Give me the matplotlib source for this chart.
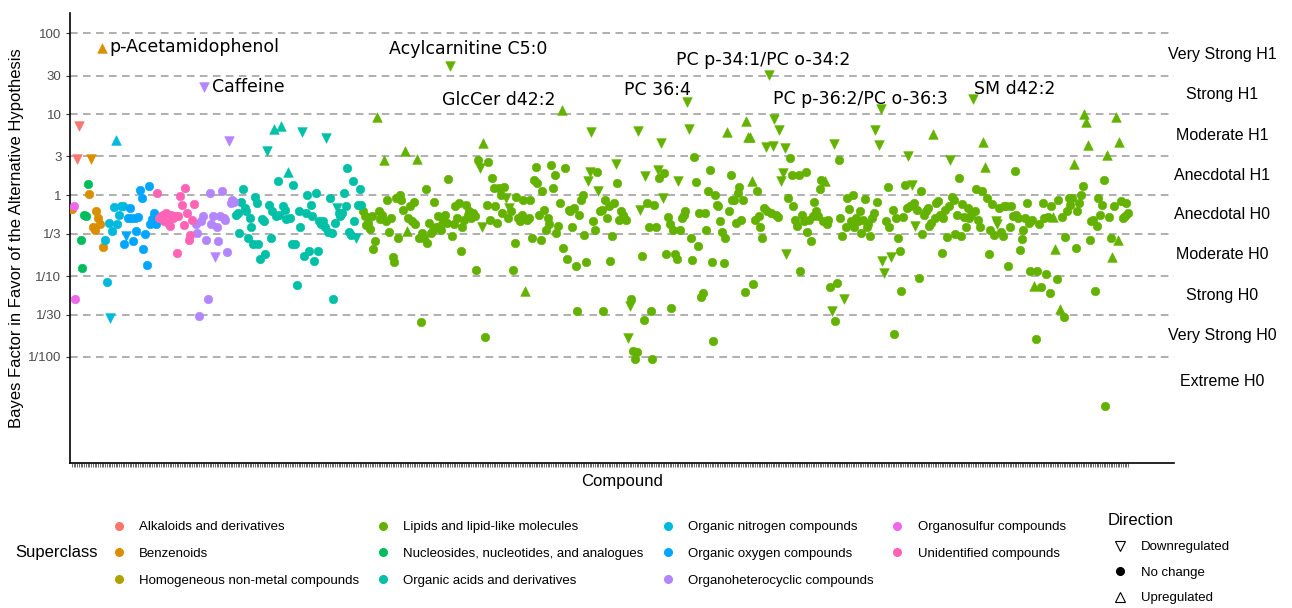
import matplotlib.pyplot as plt
import matplotlib.transforms as mtransforms
from matplotlib.lines import Line2D

# log10 Bayes factors, left to right, one run per superclass block
# direction codes: o = no change, v = downregulated, ^ = upregulated
benz_first = [-0.17]
benz_first_dir = "o"
sulfur_bf = [-0.13, -1.28]
sulfur_dir = "oo"
alkaloid_bf = [0.44, 0.85]
alkaloid_dir = "vv"
nucleo_bf = [-0.55, -0.90, -0.24, -0.26, 0.14]
nucleo_dir = "ooooo"
benz_bf = [0.01, 0.45, -0.40, -0.43, -0.20, -0.28, -0.36, 1.82, -0.64]
benz_dir = "ovooooo^o"
nitrogen_bf = [-0.55, -1.07, -0.34, -1.52, -0.44, -0.15, 0.68, -0.36, -0.25, -0.14, -0.13]
nitrogen_dir = "ooovoo^oooo"
oxygen_bf = [-0.61, -0.50, -0.28, -0.16, -0.28, -0.57, -0.28, -0.44, -0.27, 0.06,
             -0.04, -0.67, -0.48, -0.86, 0.11, -0.36, -0.30, -0.22, -0.36]
oxygen_dir = "ovoooooooo" "ooooooooo"
unident_bf = [0.02, -0.28, -0.26, -0.25, -0.32, -0.22, -0.34, -0.38, -0.25, -0.28,
              -0.26, -0.71, -0.26, -0.01, -0.12, -0.37, 0.09, -0.22, -0.55, -0.49,
              -0.31, -0.11]
unident_dir = "o" * 22
hetero_bf = [-0.36, -0.47, -1.49, -0.32, -0.26, 1.33, -0.55, -1.28, 0.02, -0.36,
             -0.26, -0.77, -0.40, -0.57, -0.26, 0.05, -0.28, -0.31, -0.70, 0.67,
             -0.10, -0.06, -0.08]
hetero_dir = "ooooovoooo" "ovooooooov" "ooo"
acids_bf = [-0.24, -0.22, -0.47, -0.08, 0.07, -0.16, -0.20, -0.53, -0.28, -0.40,
            -0.61, -0.02, -0.10, -0.61, -0.79, -0.30, -0.32, -0.73, 0.54, -0.12,
            -0.53, -0.20, 0.82, -0.26, 0.17, -0.24, 0.86, -0.14, -0.18, -0.30,
            0.29, -0.28, -0.61, 0.13, -0.61, -1.11, -0.20, -0.40, 0.78, -0.75,
            -0.22, 0.00, -0.69, -0.12, -0.26, -0.81, 0.02, -0.69, -0.32, -0.36,
            -0.32, -0.40, 0.70, -0.45, -0.03, -0.47, -1.28, -0.34, -0.16, -0.22,
            -0.26, -0.22, 0.02, -0.14, 0.34, -0.45, -0.49, 0.17, -0.32, -0.53,
            -0.12, 0.08, -0.12]
acids_dir = ("oooooooooo" "oooooooovo" "oo^ooo^ooo" "^ooooooovo" "oooooooooo"
             "oovooooovo" "ooooooooov" "ooo")
lipid_bf = [-0.20, -0.26, -0.37, -0.34, -0.42, -0.26, -0.67, -0.57, 0.97, -0.20,
            -0.30, -0.24, 0.43, -0.32, -0.06, -0.45, -0.28, -0.77, -0.83, -0.04,
            -0.53, 0.00, -0.06, -0.18, 0.54, -0.44, -0.28, -0.14, -0.32, -0.08,
            -0.36, 0.45, -0.53, -1.57, -0.47, -0.53, 0.07, -0.59, -0.34, -0.47,
            -0.43, -0.08, -0.40, -0.26, -0.38, -0.43, -0.32, -0.24, -0.34, 0.20,
            1.60, -0.51, -0.36, -0.14, -0.28, -0.10, -0.69, -0.40, -0.31, -0.12,
            -0.24, -0.20, -0.28, -0.22, -0.26, -0.92, 0.43, 0.33, -0.40, 0.64,
            -1.75, -0.12, 0.41, -0.31, 0.21, 0.09, -0.14, -0.34, 0.09, 0.00,
            -0.22, 0.10, -0.04, -0.28, -0.16, -0.20, -0.92, -0.59, -0.02, -0.28,
            -0.32, -0.24, -0.06, -1.18, -0.31, -0.28, -0.06, -0.53, 0.19, 0.35,
            0.15, -0.24, -0.55, 0.05, -0.18, -0.43, -0.28, -0.36, 0.37, 0.09,
            0.25, -0.47, -0.38, -0.10, 1.05, -0.65, 0.33, -0.79, -0.18, -0.20,
            -0.40, -0.16, -0.88, -1.43, -0.24, -0.06, 0.00, -0.49, -0.83, 0.17,
            0.29, 0.78, -0.32, -0.43, 0.29, 0.05, -0.20, -0.18, -1.43, -0.06,
            -0.28, -0.14, -0.81, -0.51, -0.10, 0.39, 0.15, -0.31, -0.20, -0.24,
            -0.28, -0.31, -1.76, -1.37, -1.28, -1.92, -2.02, -1.94, 0.79, -0.18,
            -0.75, -1.54, 0.23, -0.10, -0.39, -1.43, -2.02, -0.12, -0.39, 0.31,
            0.21, 0.64, -0.04, 0.27, -0.73, -0.27, -0.36, -1.39, -0.43, -0.73,
            -0.79, 0.18, -0.43, -0.28, -0.24, -0.20, 1.15, 0.82, -0.53, -0.80,
            0.47, 0.16, -0.63, -0.22, -1.26, -1.21, -0.22, -0.43, 0.05, 0.31,
            -0.83, -1.80, 0.00, -0.12, -0.14, -0.32, -0.45, -0.84, -0.53, 0.78,
            -0.20, 0.25, -0.06, -0.06, -0.34, 0.02, 0.10, -0.31, -0.06, -1.20,
            0.92, 0.72, 0.72, 0.17, -1.10, -0.31, 0.05, -0.26, -0.40, -0.53,
            -0.16, 0.60, -0.20, 1.48, -0.22, 0.61, 0.94, -0.24, -0.27, 0.80,
            0.18, 0.27, 0.58, -0.73, -0.04, 0.46, 0.25, -0.14, -0.31, -0.38,
            0.25, -0.94, -0.24, -0.32, 0.28, -0.45, -0.31, -0.57, -0.26, -0.08,
            -0.20, -0.26, 0.07, 0.19, -0.32, 0.17, -0.36, -0.31, -1.13, -1.43,
            0.63, -1.56, -1.08, 0.43, -0.28, -0.51, -1.28, -0.39, -0.04, -0.17,
            -0.32, 0.00, -0.40, -0.28, -0.32, -0.20, -0.47, -0.31, -0.05, -0.40,
            -0.36, -0.51, -0.28, -0.22, 0.80, -0.08, 0.62, 1.07, -0.81, -0.96,
            -0.32, 0.10, -0.40, -0.77, -0.18, -1.71, -0.28, -0.53, -0.69, -1.18,
            -0.27, 0.13, -0.16, 0.48, -0.14, 0.13, -0.10, -0.38, -0.18, -1.02,
            0.05, -0.48, -0.24, -0.20, -0.16, -0.38, -0.34, 0.75, -0.28, -0.10,
            -0.07, -0.24, -0.71, -0.28, -0.18, -0.52, -0.14, 0.43, -0.02, -0.06,
            -0.48, -0.24, 0.21, -0.51, -0.11, -0.27, -0.40, -0.16, -0.28, -0.24,
            1.19, -0.20, 0.08, -0.31, -0.39, 0.05, 0.65, 0.35, -0.04, -0.73,
            -0.43, -0.11, -0.49, -0.32, -0.36, -0.16, -0.45, -0.51, -0.14, -0.14,
            -0.88, -0.40, -0.14, -0.26, 0.30, -0.24, -0.28, -0.68, -0.54, -0.43,
            -0.28, -0.10, -0.35, -0.94, -0.31, -1.12, -1.78, -0.94, -0.36, -1.13,
            -0.10, -0.28, -0.98, -0.27, -1.21, -0.14, -0.27, -0.67, -1.04, -0.06,
            -1.41, -0.27, -1.51, -0.52, -0.20, -0.04, -0.12, -0.04, 0.38, -0.65,
            -0.20, -0.10, 0.00, 0.11, 1.00, 0.90, 0.62, -0.55, -0.32, -0.31,
            -1.18, -0.38, -0.04, -0.24, -0.12, 0.19, -2.60, 0.49, -0.27, -0.53,
            -0.76, -0.14, 0.97, -0.55, 0.66, -0.07, -0.28, -0.26, -0.10, -0.22]
lipid_dir = ("oooooooo^o" "oo^ooooooo" "oooo^^oooo" "o^oooooooo" "oooooooooo"
             "vooooooooo" "ooooooovv^" "oooooooooo" "oovovooooo" "ooo^oooooo"
             "oooooooooo" "oooo^ooooo" "ooooooooov" "vvooovoooo" "ooooovoooo"
             "oovvoooovv" "oovoooooov" "ovvooooooo" "ovoooovvoo" "oooooooooo"
             "ooooooooo^" "oooooooooo" "^^^^oooooo" "ovovovvoov" "vvvvoooooo"
             "oooooooooo" "ooooo^ooov" "vooooovooo" "oooooooooo" "oooovovvvv"
             "ooovoooooo" "ooovovovoo" "ooooooo^oo" "ooooooovoo" "oooooooooo"
             "vooooo^^oo" "ooovvooooo" "oooooooooo" "ooooo^oooo" "oooooo^^oo"
             "^ooooooo^o" "oooo^^^ooo" "ooooooo^oo" "^o^^^ooooo")

superclasses = ["Alkaloids and derivatives", "Benzenoids", "Homogeneous non-metal compounds",
                "Lipids and lipid-like molecules", "Nucleosides, nucleotides, and analogues",
                "Organic acids and derivatives", "Organic nitrogen compounds",
                "Organic oxygen compounds", "Organoheterocyclic compounds",
                "Organosulfur compounds", "Unidentified compounds"]
class_colors = ["#F8766D", "#DB8E00", "#AEA200", "#64B200", "#00BD5C", "#00C1A7",
                "#00BADE", "#00A6FF", "#B385FF", "#EF67EB", "#FF63B6"]

runs = [
    ("Benzenoids", benz_first, benz_first_dir),
    ("Organosulfur compounds", sulfur_bf, sulfur_dir),
    ("Alkaloids and derivatives", alkaloid_bf, alkaloid_dir),
    ("Nucleosides, nucleotides, and analogues", nucleo_bf, nucleo_dir),
    ("Benzenoids", benz_bf, benz_dir),
    ("Organic nitrogen compounds", nitrogen_bf, nitrogen_dir),
    ("Organic oxygen compounds", oxygen_bf, oxygen_dir),
    ("Unidentified compounds", unident_bf, unident_dir),
    ("Organoheterocyclic compounds", hetero_bf, hetero_dir),
    ("Organic acids and derivatives", acids_bf, acids_dir),
    ("Lipids and lipid-like molecules", lipid_bf, lipid_dir),
]

# labelled compounds: (name, superclass, log10 BF, text offset in pixels, alignment)
labels = [
    ("p-Acetamidophenol", "Benzenoids", 1.82, (8, 1), "left"),
    ("Caffeine", "Organoheterocyclic compounds", 1.33, (8, 0), "left"),
    ("Acylcarnitine C5:0", "Lipids and lipid-like molecules", 1.60, (18, 17), "center"),
    ("GlcCer d42:2", "Lipids and lipid-like molecules", 1.05, (-63, 10), "center"),
    ("PC 36:4", "Lipids and lipid-like molecules", 1.15, (-30, 12), "center"),
    ("PC p-34:1/PC o-34:2", "Lipids and lipid-like molecules", 1.48, (-6, 15), "center"),
    ("PC p-36:2/PC o-36:3", "Lipids and lipid-like molecules", 1.07, (-20, 10), "center"),
    ("SM d42:2", "Lipids and lipid-like molecules", 1.19, (42, 10), "center"),
]

bf_ticks = [1 / 100, 1 / 30, 1 / 10, 1 / 3, 1, 3, 10, 30, 100]
bf_tick_labels = ["1/100", "1/30", "1/10", "1/3", "1", "3", "10", "30", "100"]
evidence_labels = ["Very Strong H1", "Strong H1", "Moderate H1", "Anecdotal H1",
                   "Anecdotal H0", "Moderate H0", "Strong H0", "Very Strong H0", "Extreme H0"]

W, H = 1292, 608


def build_points():
    pts = []
    for cls, vals, dirs in runs:
        dirs = (dirs + "o" * len(vals))[:len(vals)]
        for v, d in zip(vals, dirs):
            pts.append((cls, v, d))
    return pts


def main():
    plt.rcParams['font.family'] = ['Liberation Sans', 'DejaVu Sans']
    pts = build_points()
    n = len(pts)

    fig = plt.figure(figsize=(W / 100, H / 100), dpi=100)
    ax = fig.add_axes([70 / W, 1 - 463 / H, 1104 / W, 450 / H])

    markers = {"o": ("o", 38), "v": ("v", 48), "^": ("^", 48)}
    color_of = dict(zip(superclasses, class_colors))
    for cls in superclasses:
        for d, (m, s) in markers.items():
            xs = [i for i, p in enumerate(pts) if p[0] == cls and p[2] == d]
            ys = [10 ** pts[i][1] for i in xs]
            if xs:
                ax.scatter(xs, ys, marker=m, s=s, color=color_of[cls],
                           edgecolors=color_of[cls], linewidths=0.4, zorder=3)

    for t in bf_ticks:
        ax.axhline(t, color="#9a9a9a", lw=1.1, ls=(0, (5, 3.5)), zorder=1)

    ax.set_yscale("log")
    ax.set_ylim(10 ** -3.31, 10 ** 2.25)
    ax.set_yticks(bf_ticks)
    ax.set_yticklabels(bf_tick_labels)
    ax.minorticks_off()
    unit = 1056 / (n - 1)
    ax.set_xlim(-2 / unit, (n - 1) + 46 / unit)
    ax.set_xticks(range(n))
    ax.set_xticklabels([])
    ax.tick_params(axis="x", length=2.7, width=0.5, color="#333333")
    ax.tick_params(axis="y", length=2.7, width=0.8, color="#333333",
                   labelcolor="#4D4D4D", labelsize=9.5)
    for side in ["top", "right"]:
        ax.spines[side].set_visible(False)
    for side in ["left", "bottom"]:
        ax.spines[side].set_linewidth(1.2)
        ax.spines[side].set_color("black")

    ax.set_xlabel("Compound", fontsize=12, labelpad=2)
    ax.set_ylabel("Bayes Factor in Favor of the Alternative Hypothesis", fontsize=12)
    ax.yaxis.set_label_coords(-46 / 1104, 0.5)

    # evidence bands on the right, centred between the dashed lines
    bounds = sorted(bf_ticks, reverse=True) + [1 / 400]
    trans = mtransforms.blended_transform_factory(ax.transAxes, ax.transData)
    for k, lab in enumerate(evidence_labels):
        y = (bounds[k] * bounds[k + 1]) ** 0.5
        ax.text(1.0435, y, lab, transform=trans, ha="center", va="center",
                fontsize=11.5, clip_on=False)

    for name, cls, v, off, ha in labels:
        idx = [i for i, p in enumerate(pts) if p[0] == cls and abs(p[1] - v) < 1e-9][0]
        ax.annotate(name, xy=(idx, 10 ** v), xytext=off, textcoords="offset pixels",
                    ha=ha, va="center", fontsize=12.5, family="DejaVu Sans", zorder=4)

    class_handles = [Line2D([], [], ls="", marker="o", markersize=5.5, color=c)
                     for c in class_colors]
    fig.legend(class_handles, superclasses, ncol=4, loc="upper left",
               bbox_to_anchor=(112 / W, 1 - 521 / H), frameon=False, fontsize=9.5,
               handlelength=1.0, handletextpad=1.05, columnspacing=1.3,
               labelspacing=1.1, borderpad=0, borderaxespad=0)
    fig.text(15 / W, 1 - 553 / H, "Superclass", fontsize=12, va="center", ha="left")

    dir_handles = [
        Line2D([], [], ls="", marker="v", markersize=7, markerfacecolor="none",
               markeredgecolor="black", markeredgewidth=0.8),
        Line2D([], [], ls="", marker="o", markersize=5.5, color="black"),
        Line2D([], [], ls="", marker="^", markersize=7, markerfacecolor="none",
               markeredgecolor="black", markeredgewidth=0.8),
    ]
    fig.legend(dir_handles, ["Downregulated", "No change", "Upregulated"],
               title="Direction", title_fontsize=12, alignment="left",
               loc="upper left", bbox_to_anchor=(1108 / W, 1 - 513 / H), frameon=False,
               fontsize=9.5, handlelength=1.8, handletextpad=0.7, labelspacing=1.0,
               borderpad=0, borderaxespad=0)

    fig.savefig("out.png", dpi=100)


if __name__ == "__main__":
    main()
